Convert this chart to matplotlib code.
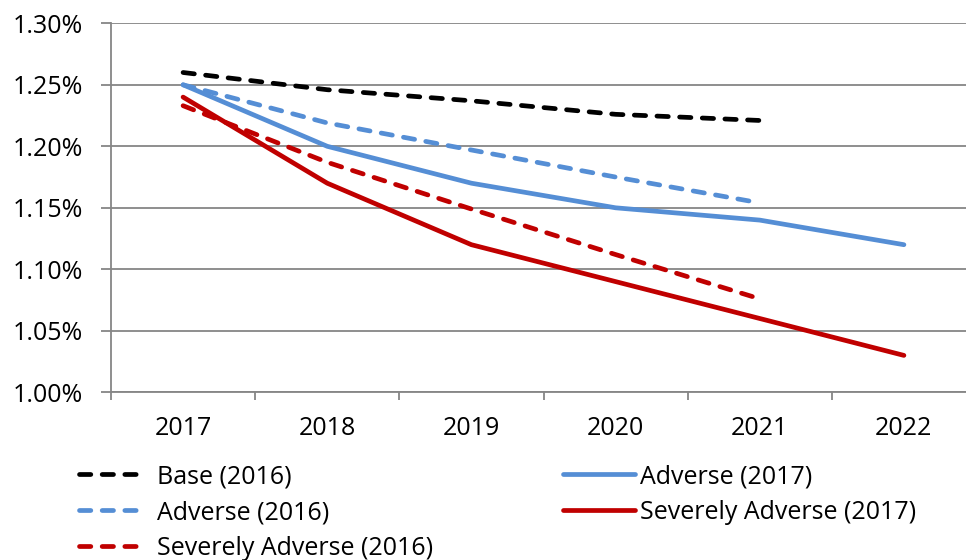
import matplotlib
matplotlib.use("Agg")
import matplotlib.pyplot as plt
from matplotlib.ticker import FixedLocator, FuncFormatter

plt.rcParams["font.family"] = ["Open Sans", "DejaVu Sans"]

years = ["2017", "2018", "2019", "2020", "2021", "2022"]

# Projected rates, in percent
base_2016 = [1.260, 1.246, 1.237, 1.226, 1.221]
adverse_2016 = [1.250, 1.219, 1.197, 1.175, 1.154]
sev_adverse_2016 = [1.233, 1.187, 1.149, 1.112, 1.076]
adverse_2017 = [1.25, 1.20, 1.17, 1.15, 1.14, 1.12]
sev_adverse_2017 = [1.24, 1.17, 1.12, 1.09, 1.06, 1.03]

BLUE = "#558ED5"
RED = "#C00000"
GRID = "#868686"
FS = 18
LW = 3.4
DASH = (2.4, 2.4)

fig = plt.figure(figsize=(9.66, 5.6), dpi=100)
ax = fig.add_axes([111 / 966, 1 - 392.3 / 560, 865 / 966, 369 / 560])

x16 = range(len(base_2016))
x17 = range(len(adverse_2017))

series = [
    (x16, base_2016, "black", "--", "Base (2016)"),
    (x16, adverse_2016, BLUE, "--", "Adverse (2016)"),
    (x16, sev_adverse_2016, RED, "--", "Severely Adverse (2016)"),
    (x17, adverse_2017, BLUE, "-", "Adverse (2017)"),
    (x17, sev_adverse_2017, RED, "-", "Severely Adverse (2017)"),
]

lines = []
for xs, ys, color, ls, label in series:
    ln, = ax.plot(list(xs), ys, color=color, lw=LW, label=label,
                  solid_capstyle="round", dash_capstyle="round",
                  solid_joinstyle="round")
    if ls == "--":
        ln.set_dashes(DASH)
    lines.append(ln)

ax.set_xlim(-0.5, len(years) - 0.5)
ax.set_ylim(1.00, 1.30)

# y axis
ax.set_yticks([1.00, 1.05, 1.10, 1.15, 1.20, 1.25, 1.30])
ax.yaxis.set_major_formatter(FuncFormatter(lambda v, p: f"{v:.2f}%"))
ax.yaxis.grid(True, color=GRID, lw=1.3)
ax.set_axisbelow(True)

# x axis: tick marks between categories, labels on the categories
ax.xaxis.set_major_locator(FixedLocator([i - 0.5 for i in range(len(years) + 1)]))
ax.xaxis.set_major_formatter(FuncFormatter(lambda v, p: ""))
ax.xaxis.set_minor_locator(FixedLocator(list(range(len(years)))))
ax.set_xticklabels(years, minor=True)

ax.tick_params(axis="y", which="major", length=7, width=1.3, color=GRID,
               pad=13, labelsize=FS)
ax.tick_params(axis="x", which="major", length=6, width=1.3, color=GRID)
ax.tick_params(axis="x", which="minor", length=0, pad=17, labelsize=FS)

for side in ["top", "right"]:
    ax.spines[side].set_visible(False)
for side in ["left", "bottom"]:
    ax.spines[side].set_color(GRID)
    ax.spines[side].set_linewidth(1.3)

# legend in two blocks, read row-wise
leg_kw = dict(frameon=False, fontsize=FS, borderpad=0, borderaxespad=0,
              labelspacing=0.44, loc="upper left")
fig.legend(handles=lines[:3], handlelength=2.52, handletextpad=0.6,
           bbox_to_anchor=(79 / 966, 1 - 464 / 560), **leg_kw)
fig.legend(handles=lines[3:], handlelength=2.88, handletextpad=0.2,
           bbox_to_anchor=(563 / 966, 1 - 464 / 560), **leg_kw)

fig.savefig("out.png", dpi=100)
